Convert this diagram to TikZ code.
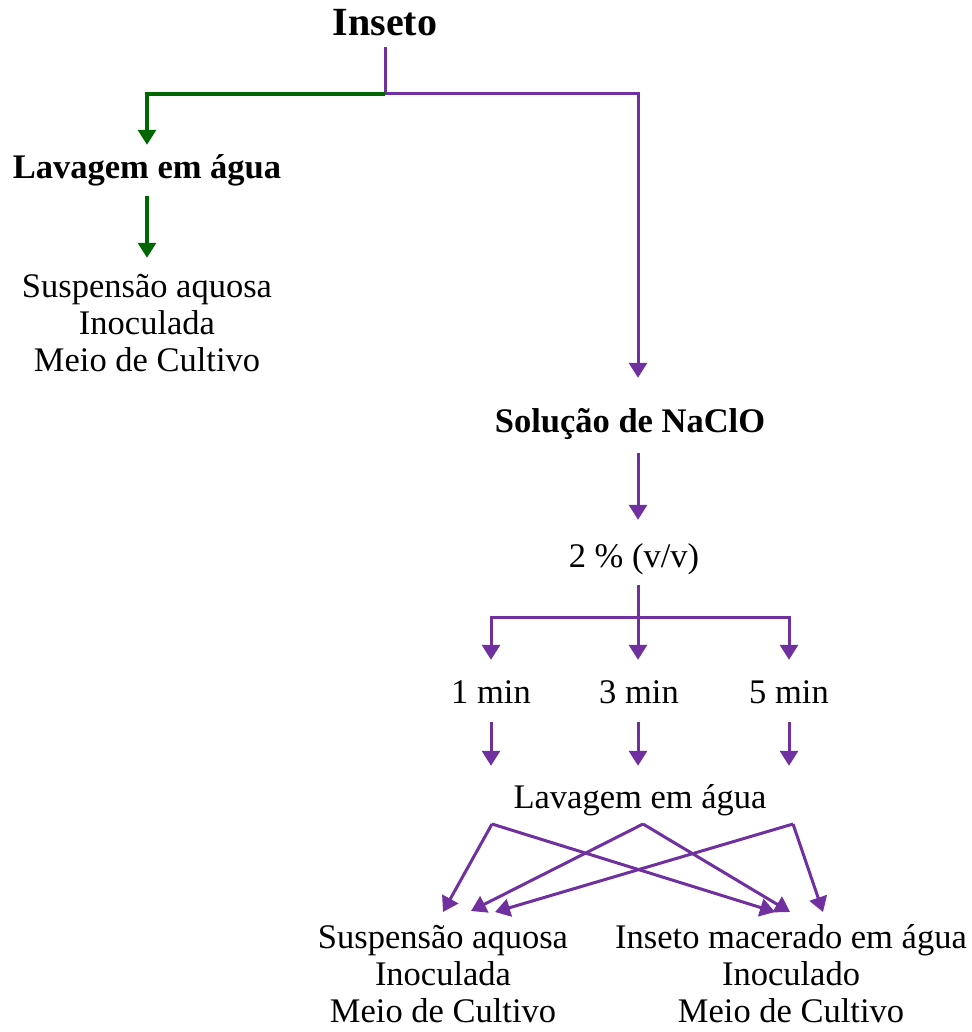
\documentclass[tikz,border=0pt]{standalone}
\usepackage{fontspec}
\setmainfont{Liberation Serif}
\usetikzlibrary{arrows.meta}
\definecolor{roxo}{HTML}{7030A0}
\definecolor{verde}{HTML}{006600}
\tikzset{
  rotulo/.style={inner sep=0pt, text height=23pt, text depth=8pt, anchor=base,
    font=\fontsize{34.5}{37}\selectfont},
  negrito/.style={rotulo, font=\fontsize{34.5}{37}\selectfont\bfseries},
  linhaR/.style={draw=roxo, line width=3pt},
  setaR/.style={linhaR, -{Triangle[width=18pt,length=15pt]}},
  linhaV/.style={draw=verde, line width=3.2pt},
  setaV/.style={linhaV, -{Triangle[width=18pt,length=15pt]}},
}
\begin{document}
\begin{tikzpicture}[x=1pt,y=-1pt]
                \useasboundingbox (0,0) rectangle (971,1032);
                
                % Marking the root
                \node (ins) [negrito, font=\fontsize{40}{40}\selectfont\bfseries] at (385,36) {Inseto};
                \coordinate (jt) at (385,94);
                
                % Left branch: water only
                \node (lav1) [negrito] at (147,179) {Lavagem em água};
                \node (sus1a) [rotulo] at (147,297) {Suspensão aquosa};
                \node (sus1b) [rotulo] at (147,334) {Inoculada};
                \node (sus1c) [rotulo] at (147,371) {Meio de Cultivo};
                
                % Right branch: NaClO
                \node (sol) [negrito] at (630,432) {Solução de NaClO};
                \node (pct) [rotulo] at (634,567) {2 \% (v/v)};
                \coordinate (j2) at (638,617);
                \node (m1) [rotulo] at (491,703) {1 min};
                \node (m3) [rotulo] at (639,703) {3 min};
                \node (m5) [rotulo] at (789,703) {5 min};
                \node (lav2) [rotulo] at (640,808) {Lavagem em água};
                
                % Final blocks
                \node (sus2a) [rotulo] at (443,948) {Suspensão aquosa};
                \node (sus2b) [rotulo] at (443,985) {Inoculada};
                \node (sus2c) [rotulo] at (443,1022) {Meio de Cultivo};
                \node (mac) [rotulo] at (791,948) {Inseto macerado em água};
                \node (macb) [rotulo] at (791,985) {Inoculado};
                \node (macc) [rotulo] at (791,1022) {Meio de Cultivo};
                
                % Drawing the first split
                \draw [linhaR, shorten <=3pt] (ins.south) -- (jt);
                \draw [setaV, shorten >=11pt] (jt) -| (lav1.north);
                \draw [setaR, shorten >=31pt] (jt) -| ([xshift=8pt]sol.north);
                \draw [setaV, shorten <=9pt, shorten >=16pt] (lav1.south) -- (sus1a.north);
                
                % Drawing the NaClO column
                \draw [setaR, shorten <=13pt, shorten >=24pt] ([xshift=8pt]sol.south) -- ([xshift=4pt]pct.north);
                \draw [linhaR, shorten <=10pt] ([xshift=4pt]pct.south) -- (j2);
                \draw [setaR, shorten >=20pt] (j2) -| (m1.north);
                \draw [setaR, shorten >=20pt] (j2) -- (j2 |- m3.north);
                \draw [setaR, shorten >=20pt] (j2) -| (m5.north);
                
                % Drawing times to washing
                \draw [setaR, shorten <=11pt, shorten >=19pt] (m1.south) -- (m1.south |- lav2.north);
                \draw [setaR, shorten <=11pt, shorten >=19pt] (j2 |- m3.south) -- (j2 |- lav2.north);
                \draw [setaR, shorten <=11pt, shorten >=19pt] (m5.south) -- (m5.south |- lav2.north);
                
                % Drawing crossed arrows
                \coordinate (o1) at (492,824);
                \coordinate (o3) at (643,824);
                \coordinate (o5) at (793,824);
                \coordinate (t1) at (443,912);
                \coordinate (t3) at (471,911);
                \coordinate (t5) at (495,912);
                \coordinate (u1) at (775,912);
                \coordinate (u3) at (790,912);
                \coordinate (u5) at (823,912);
                \draw [setaR] (o1) -- (t1);
                \draw [setaR] (o1) -- (u1);
                \draw [setaR] (o3) -- (t3);
                \draw [setaR] (o3) -- (u3);
                \draw [setaR] (o5) -- (t5);
                \draw [setaR] (o5) -- (u5);
\end{tikzpicture}
\end{document}
